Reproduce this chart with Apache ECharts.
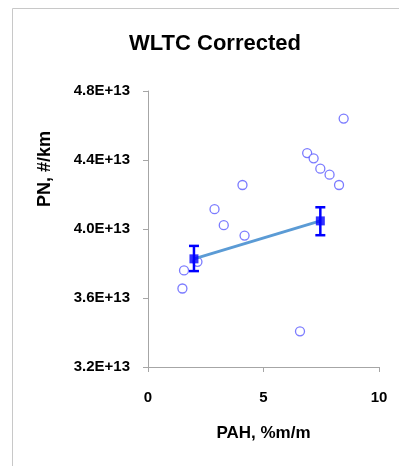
<!DOCTYPE html>
<html>
<head>
<meta charset="utf-8">
<script src="https://cdn.jsdelivr.net/npm/echarts@6/dist/echarts.min.js"></script>
<style>html,body{margin:0;padding:0;background:#fff;}#c{width:399px;height:466px;}</style>
</head>
<body>
<div id="c"></div>
<script>
// Individual measurements: PAH (%m/m) and PN (#/km)
const pahValues = [8.47, 6.89, 7.17, 7.46, 7.86, 8.27, 4.09, 2.88, 3.28, 4.18, 2.14, 1.56, 1.49, 6.58];
const pnValues = [4.64e13, 4.44e13, 4.41e13, 4.35e13, 4.315e13, 4.255e13, 4.255e13, 4.115e13, 4.022e13, 3.962e13, 3.81e13, 3.76e13, 3.655e13, 3.407e13];
// Group means with error bars
const meanPah = [1.99, 7.46];
const meanPn = [3.827e13, 4.047e13];
const meanLow = [3.756e13, 3.964e13];
const meanHigh = [3.902e13, 4.126e13];
const xTicks = [0, 5, 10];
const yTicks = [3.2e13, 3.6e13, 4.0e13, 4.4e13, 4.8e13];

const chart = echarts.init(document.getElementById('c'));
const font = 'Liberation Sans';
const scatterData = pahValues.map((x, i) => [x, pnValues[i]]);
const meanData = meanPah.map((x, i) => [x, meanPn[i]]);
const errData = meanPah.map((x, i) => [x, meanLow[i], meanHigh[i]]);

chart.setOption({
  animation: false,
  textStyle: { fontFamily: font },
  title: {
    text: 'WLTC Corrected', left: 210, top: 28, textAlign: 'center',
    textStyle: { fontFamily: font, fontWeight: 'bold', fontSize: 22, color: '#000' }
  },
  grid: { left: 148, right: 20, top: 91, bottom: 99 },
  xAxis: {
    type: 'value', min: xTicks[0], max: xTicks[xTicks.length - 1], interval: 5,
    name: 'PAH, %m/m', nameLocation: 'middle', nameGap: 58,
    nameTextStyle: { fontFamily: font, fontWeight: 'bold', fontSize: 17, color: '#000' },
    axisLine: { lineStyle: { color: '#a6a6a6', width: 1 } },
    axisTick: { show: true, inside: false, length: 5, lineStyle: { color: '#a6a6a6' } },
    axisLabel: { margin: 23, fontFamily: font, fontWeight: 'bold', fontSize: 15, color: '#000' },
    splitLine: { show: false }
  },
  yAxis: {
    type: 'value', min: yTicks[0], max: yTicks[yTicks.length - 1], interval: 0.4e13,
    axisLine: { show: true, lineStyle: { color: '#a6a6a6', width: 1 } },
    axisTick: { show: true, inside: false, length: 5, lineStyle: { color: '#a6a6a6' } },
    axisLabel: {
      margin: 18, fontFamily: font, fontWeight: 'bold', fontSize: 15, color: '#000',
      formatter: v => (v / 1e13).toFixed(1) + 'E+13'
    },
    splitLine: { show: false }
  },
  graphic: [
    { type: 'polyline', shape: { points: [[12.5, 466], [12.5, 8.5], [399, 8.5]] }, style: { stroke: '#c8c8c8', lineWidth: 1, fill: null }, silent: true },
    { type: 'text', x: 45, y: 169, rotation: Math.PI / 2, style: { text: 'PN, #/km', fontFamily: font, fontWeight: 'bold', fontSize: 18, fill: '#000', align: 'center', verticalAlign: 'middle' } }
  ],
  series: [
    {
      type: 'scatter', data: scatterData, symbol: 'circle', symbolSize: 9,
      itemStyle: { color: '#fff', borderColor: '#5a5aff', borderWidth: 1.3 }, z: 2
    },
    {
      type: 'line', data: meanData, symbol: 'none',
      lineStyle: { color: '#5b9bd5', width: 3 }, z: 3
    },
    {
      type: 'custom', data: errData, z: 4,
      renderItem: function (params, api) {
        const x = api.value(0);
        const lo = api.coord([x, api.value(1)]);
        const hi = api.coord([x, api.value(2)]);
        const cap = 5;
        const st = { stroke: '#0000ff', lineWidth: 2.5 };
        return {
          type: 'group', children: [
            { type: 'line', shape: { x1: lo[0], y1: lo[1], x2: hi[0], y2: hi[1] }, style: st },
            { type: 'line', shape: { x1: lo[0] - cap, y1: lo[1], x2: lo[0] + cap, y2: lo[1] }, style: st },
            { type: 'line', shape: { x1: hi[0] - cap, y1: hi[1], x2: hi[0] + cap, y2: hi[1] }, style: st }
          ]
        };
      }
    },
    {
      type: 'scatter', data: meanData, symbol: 'rect', symbolSize: 9,
      itemStyle: { color: '#0000ff' }, z: 5
    }
  ]
});
</script>
</body>
</html>
